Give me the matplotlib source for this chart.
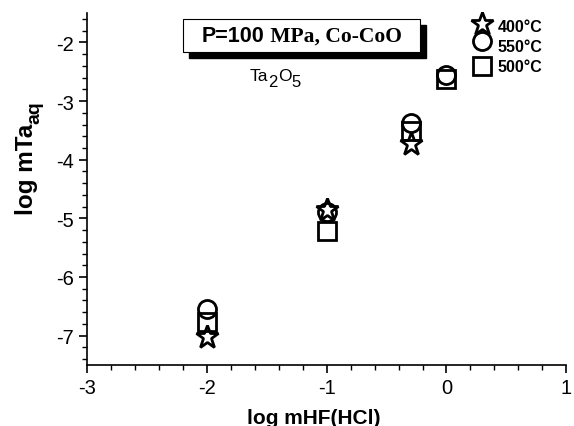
import matplotlib
matplotlib.use("Agg")
from matplotlib import pyplot as plt
from matplotlib.patches import Rectangle
from matplotlib.ticker import MultipleLocator

plt.rcParams['font.family'] = ['Liberation Sans', 'DejaVu Sans']
plt.rcParams['axes.unicode_minus'] = False

# data
x_400 = [-2, -1, -0.3]
y_400 = [-7.02, -4.85, -3.73]
x_550 = [-2, -1, -0.3, 0]
y_550 = [-6.54, -4.90, -3.37, -2.55]
x_500 = [-2, -1, -0.3, 0]
y_500 = [-6.77, -5.21, -3.51, -2.63]
labels = ["400°C", "550°C", "500°C"]

fig = plt.figure(figsize=[5.74, 4.27], dpi=100)
ax = fig.add_axes([0.1516, 0.143, 0.835, 0.824])

mk = dict(linestyle="none", markerfacecolor="none", markeredgecolor="black",
          markeredgewidth=2.0)
ax.plot(x_500, y_500, marker="s", markersize=12.5, **mk)
ax.plot(x_550, y_550, marker="o", markersize=13, **mk)
ax.plot(x_400, y_400, marker="*", markersize=17, **mk)

ax.set_xlim(-3, 1)
ax.set_ylim(-7.5, -1.5)
ax.xaxis.set_major_locator(MultipleLocator(1))
ax.xaxis.set_minor_locator(MultipleLocator(0.2))
ax.yaxis.set_major_locator(MultipleLocator(1))
ax.yaxis.set_minor_locator(MultipleLocator(0.2))
ax.tick_params(which="major", length=6, width=1.2, labelsize=14.5, direction="out")
ax.tick_params(which="minor", length=3.5, width=1.0, direction="out")
ax.spines["top"].set_visible(False)
ax.spines["right"].set_visible(False)
ax.spines["left"].set_linewidth(1.2)
ax.spines["bottom"].set_linewidth(1.2)

ax.set_xlabel("log mHF(HCl)", fontsize=15, fontweight="bold")
ax.xaxis.set_label_coords(0.474, -0.123)

# y label with a large subscript
yl = fig.text(0.047, 0.4965, "log mTa", rotation=90, fontsize=17.5,
              fontweight="bold", ha="center", va="bottom")
ax.annotate("aq", xy=(1, 1), xycoords=yl, xytext=(5, 0),
            textcoords="offset pixels", rotation=90, fontsize=14,
            fontweight="bold", ha="right", va="bottom")

# legend drawn by hand in the top right corner
leg_mx = 0.825
leg_my = [0.969, 0.920, 0.849]
leg_ty = [0.963, 0.906, 0.849]
leg_mk = [("*", 17), ("o", 13), ("s", 12.5)]
for (m, s), my, ty, lab in zip(leg_mk, leg_my, leg_ty, labels):
    ax.plot([leg_mx], [my], marker=m, markersize=s, transform=ax.transAxes,
            clip_on=False, **mk)
    ax.text(0.856, ty, lab, transform=ax.transAxes, fontsize=11.5,
            fontweight="bold", va="center", ha="left")

# boxed title with shadow
bx, by, bw, bh = 0.200, 0.889, 0.495, 0.094
ax.add_patch(Rectangle((bx + 0.0125, by - 0.017), bw, bh, transform=ax.transAxes,
                       facecolor="black", edgecolor="black", clip_on=False))
ax.add_patch(Rectangle((bx, by), bw, bh, transform=ax.transAxes,
                       facecolor="white", edgecolor="black", linewidth=0.8,
                       clip_on=False))
t1 = ax.text(0.240, by + bh / 2, "P=100", transform=ax.transAxes, fontsize=15.5,
             fontweight="bold", va="center", ha="left")
ax.annotate(" MPa, Co-CoO", xy=(1, 0.5), xycoords=t1, va="center", ha="left",
            fontsize=15.5, fontweight="bold", family="Liberation Serif")

# Ta2O5 with large subscripts
t_ta = ax.text(0.340, 0.800, "Ta", transform=ax.transAxes, fontsize=12.5,
               va="bottom", ha="left")
t_2 = ax.annotate("2", xy=(1, 0), xycoords=t_ta, xytext=(0, -4),
                  textcoords="offset points", va="bottom", ha="left", fontsize=12)
t_o = ax.annotate("O", xy=(1, 0), xycoords=t_2, xytext=(0, 4),
                  textcoords="offset points", va="bottom", ha="left", fontsize=12.5)
ax.annotate("5", xy=(1, 0), xycoords=t_o, xytext=(0, -4),
            textcoords="offset points", va="bottom", ha="left", fontsize=12)

plt.savefig("out.png", dpi=100)
